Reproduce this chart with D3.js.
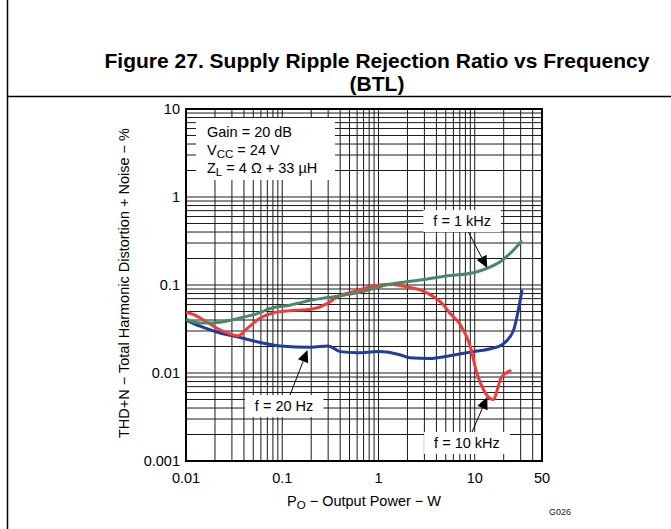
<!DOCTYPE html>
<html>
<head>
<meta charset="utf-8">
<script src="https://cdnjs.cloudflare.com/ajax/libs/d3/7.8.5/d3.min.js"></script>
<style>
  body { margin: 0; background: #fff; }
  svg { display: block; font-family: "Liberation Sans", Arial, sans-serif; }
</style>
</head>
<body>
<div id="chart"></div>
<script>
// f = 20 Hz : output power (W) / THD+N (%)
var power20Hz = [0.01, 0.014, 0.0225, 0.035, 0.046, 0.056, 0.095, 0.2, 0.3, 0.4, 0.6, 1.0, 1.7, 2.1, 3.4, 5.5, 9.6, 15, 19, 25, 31];
var thd20Hz   = [0.040, 0.034, 0.0285, 0.0257, 0.0237, 0.0225, 0.0203, 0.0196, 0.0203, 0.0175, 0.017, 0.0175, 0.016, 0.0149, 0.0146, 0.0157, 0.0175, 0.019, 0.0208, 0.0296, 0.088];

// f = 1 kHz
var power1kHz = [0.01, 0.014, 0.019, 0.0265, 0.039, 0.054, 0.075, 0.12, 0.21, 0.3, 0.65, 1.2, 2.7, 5.5, 9.7, 13.3, 18.4, 24.3, 31];
var thd1kHz   = [0.041, 0.037, 0.037, 0.039, 0.043, 0.047, 0.054, 0.059, 0.068, 0.072, 0.083, 0.1, 0.114, 0.128, 0.138, 0.154, 0.184, 0.239, 0.319];

// f = 10 kHz
var power10kHz = [0.01, 0.012, 0.0165, 0.0225, 0.035, 0.043, 0.059, 0.08, 0.12, 0.2, 0.29, 0.37, 0.55, 0.88, 1.3, 2.0, 2.7, 3.7, 4.7, 5.5, 7, 9, 10.5, 12.5, 15.5, 19, 24];
var thd10kHz   = [0.049, 0.046, 0.038, 0.031, 0.0265, 0.032, 0.042, 0.048, 0.051, 0.053, 0.061, 0.073, 0.084, 0.097, 0.102, 0.095, 0.088, 0.074, 0.060, 0.048, 0.036, 0.020, 0.010, 0.0063, 0.005, 0.009, 0.0107];

var xTicks = [0.01, 0.1, 1, 10, 50];
var xTickLabels = ['0.01', '0.1', '1', '10', '50'];
var yTicks = [0.001, 0.01, 0.1, 1, 10];
var yTickLabels = ['0.001', '0.01', '0.1', '1', '10'];

// curve labels: arrow tip and label centre, both in data units
var noteText = ['f = 20 Hz', 'f = 1 kHz', 'f = 10 kHz'];
var noteTip = [[0.183, 0.0182], [13.5, 0.156], [13.5, 0.00534]];
var noteAt = [[0.1045, 0.0042], [7.4, 0.533], [8.3, 0.0016]];

var attrs = {
    svgWidth: 671,
    svgHeight: 529,
    marginTop: 109,
    marginLeft: 186,
    marginRight: 129,
    marginBottom: 68,
    fontSize: '14.5px'
};

var calc = {};
calc.chartWidth = attrs.svgWidth - attrs.marginLeft - attrs.marginRight;
calc.chartHeight = attrs.svgHeight - attrs.marginTop - attrs.marginBottom;

var svg = d3.select('#chart')
    .append('svg')
    .attr('width', attrs.svgWidth)
    .attr('height', attrs.svgHeight);

// page frame: left rule and rule under the title
svg.append('line')
    .attr('x1', 7.5).attr('x2', 7.5)
    .attr('y1', 0).attr('y2', attrs.svgHeight)
    .attr('stroke', '#000').attr('stroke-width', 1.5);
svg.append('line')
    .attr('x1', 7).attr('x2', attrs.svgWidth)
    .attr('y1', 96.5).attr('y2', 96.5)
    .attr('stroke', '#000').attr('stroke-width', 1.5);

var title = svg.append('text')
    .attr('text-anchor', 'middle')
    .attr('font-size', '21px')
    .attr('font-weight', 'bold')
    .attr('fill', '#000');
title.append('tspan').attr('x', 377).attr('y', 68).text('Figure 27. Supply Ripple Rejection Ratio vs Frequency');
title.append('tspan').attr('x', 377).attr('y', 91).text('(BTL)');

var chart = svg.append('g')
    .attr('transform', 'translate(' + attrs.marginLeft + ',' + attrs.marginTop + ')');

var xScale = d3.scaleLog()
    .domain([0.01, 50])
    .range([0, calc.chartWidth]);

var yScale = d3.scaleLog()
    .domain([0.001, 10])
    .range([calc.chartHeight, 0]);

// grid
chart.append('g')
    .selectAll('line')
    .data(xScale.ticks())
    .enter().append('line')
    .attr('x1', function (d) { return xScale(d); })
    .attr('x2', function (d) { return xScale(d); })
    .attr('y1', 0).attr('y2', calc.chartHeight)
    .attr('stroke', '#1a1a1a').attr('stroke-width', 1);

chart.append('g')
    .selectAll('line')
    .data(yScale.ticks())
    .enter().append('line')
    .attr('y1', function (d) { return yScale(d); })
    .attr('y2', function (d) { return yScale(d); })
    .attr('x1', 0).attr('x2', calc.chartWidth)
    .attr('stroke', '#1a1a1a').attr('stroke-width', 1);

// condition box
chart.append('rect')
    .attr('x', 10).attr('y', 9)
    .attr('width', 139).attr('height', 62)
    .attr('fill', '#fff');

var cond = chart.append('g')
    .attr('font-size', attrs.fontSize)
    .attr('fill', '#000');
cond.append('text').attr('x', 21).attr('y', 28).text('Gain = 20 dB');
var vcc = cond.append('text').attr('x', 21).attr('y', 46);
vcc.append('tspan').text('V');
vcc.append('tspan').attr('font-size', '11.5px').attr('dy', 3).text('CC');
vcc.append('tspan').attr('dy', -3).text(' = 24 V');
var zl = cond.append('text').attr('x', 21).attr('y', 64);
zl.append('tspan').text('Z');
zl.append('tspan').attr('font-size', '11.5px').attr('dy', 3).text('L');
zl.append('tspan').attr('dy', -3).text(' = 4 \u03A9 + 33 \u00B5H');

// label boxes
var notes = noteText.map(function (t, i) {
    return { text: t, tip: noteTip[i], at: noteAt[i] };
});

var noteG = chart.selectAll('.note')
    .data(notes)
    .enter().append('g')
    .attr('class', 'note');

noteG.append('rect')
    .attr('fill', '#fff');

noteG.append('text')
    .attr('x', function (d) { return xScale(d.at[0]); })
    .attr('y', function (d) { return yScale(d.at[1]) + 5; })
    .attr('text-anchor', 'middle')
    .attr('font-size', attrs.fontSize)
    .attr('fill', '#000')
    .text(function (d) { return d.text; });

noteG.each(function (d) {
    var bb = d3.select(this).select('text').node().getBBox();
    d.box = { x: bb.x - 10, y: yScale(d.at[1]) - 11, w: bb.width + 20, h: 22 };
    d3.select(this).select('rect')
        .attr('x', d.box.x).attr('y', d.box.y)
        .attr('width', d.box.w).attr('height', d.box.h);
});

// plot frame
chart.append('rect')
    .attr('width', calc.chartWidth)
    .attr('height', calc.chartHeight)
    .attr('fill', 'none')
    .attr('stroke', '#000')
    .attr('stroke-width', 2);

// axis labels
chart.append('g')
    .attr('font-size', attrs.fontSize)
    .selectAll('text')
    .data(xTicks)
    .enter().append('text')
    .attr('x', function (d) { return xScale(d); })
    .attr('y', calc.chartHeight + 22)
    .attr('text-anchor', 'middle')
    .text(function (d, i) { return xTickLabels[i]; });

chart.append('g')
    .attr('font-size', attrs.fontSize)
    .selectAll('text')
    .data(yTicks)
    .enter().append('text')
    .attr('x', -6)
    .attr('y', function (d) { return yScale(d) + 5; })
    .attr('text-anchor', 'end')
    .text(function (d, i) { return yTickLabels[i]; });

var xTitle = chart.append('text')
    .attr('x', 178)
    .attr('y', calc.chartHeight + 45)
    .attr('text-anchor', 'middle')
    .attr('font-size', attrs.fontSize);
xTitle.append('tspan').text('P');
xTitle.append('tspan').attr('font-size', '11.5px').attr('dy', 3).text('O');
xTitle.append('tspan').attr('dy', -3).text(' \u2212 Output Power \u2212 W');

chart.append('text')
    .attr('transform', 'translate(-57,' + (calc.chartHeight / 2 - 2) + ') rotate(-90)')
    .attr('text-anchor', 'middle')
    .attr('font-size', attrs.fontSize)
    .text('THD+N \u2212 Total Harmonic Distortion + Noise \u2212 %');

svg.append('text')
    .attr('x', 560).attr('y', 515)
    .attr('text-anchor', 'middle')
    .attr('font-size', '9px')
    .attr('fill', '#222')
    .text('G026');

// curves
var series = [
    { power: power20Hz, thd: thd20Hz, color: '#1f3d99' },
    { power: power10kHz, thd: thd10kHz, color: '#f23a3a' },
    { power: power1kHz, thd: thd1kHz, color: '#4d8767' }
];

var pathline = d3.line()
    .curve(d3.curveMonotoneX)
    .x(function (d) { return xScale(d[0]); })
    .y(function (d) { return yScale(d[1]); });

chart.selectAll('.pathline')
    .data(series)
    .enter().append('path')
    .attr('class', 'pathline')
    .attr('fill', 'none')
    .attr('stroke', function (d) { return d.color; })
    .attr('stroke-width', 3)
    .attr('stroke-linejoin', 'round')
    .attr('d', function (d) { return pathline(d.power.map(function (p, i) { return [p, d.thd[i]]; })); });

// arrows from label box to curve
noteG.each(function (d) {
    var tx = xScale(d.tip[0]), ty = yScale(d.tip[1]);
    var cx = xScale(d.at[0]);
    var sx = cx + (tx - cx) * 0.25;
    var sy = ty < d.box.y ? d.box.y : d.box.y + d.box.h;
    var ang = Math.atan2(ty - sy, tx - sx);
    var len = 12, half = 5.5;
    var bx = tx - len * Math.cos(ang), by = ty - len * Math.sin(ang);
    chart.append('line')
        .attr('x1', sx).attr('y1', sy)
        .attr('x2', bx).attr('y2', by)
        .attr('stroke', '#000').attr('stroke-width', 1);
    chart.append('path')
        .attr('d', 'M' + tx + ',' + ty +
            'L' + (bx + half * Math.sin(ang)) + ',' + (by - half * Math.cos(ang)) +
            'L' + (bx - half * Math.sin(ang)) + ',' + (by + half * Math.cos(ang)) + 'Z')
        .attr('fill', '#000');
});
</script>
</body>
</html>
